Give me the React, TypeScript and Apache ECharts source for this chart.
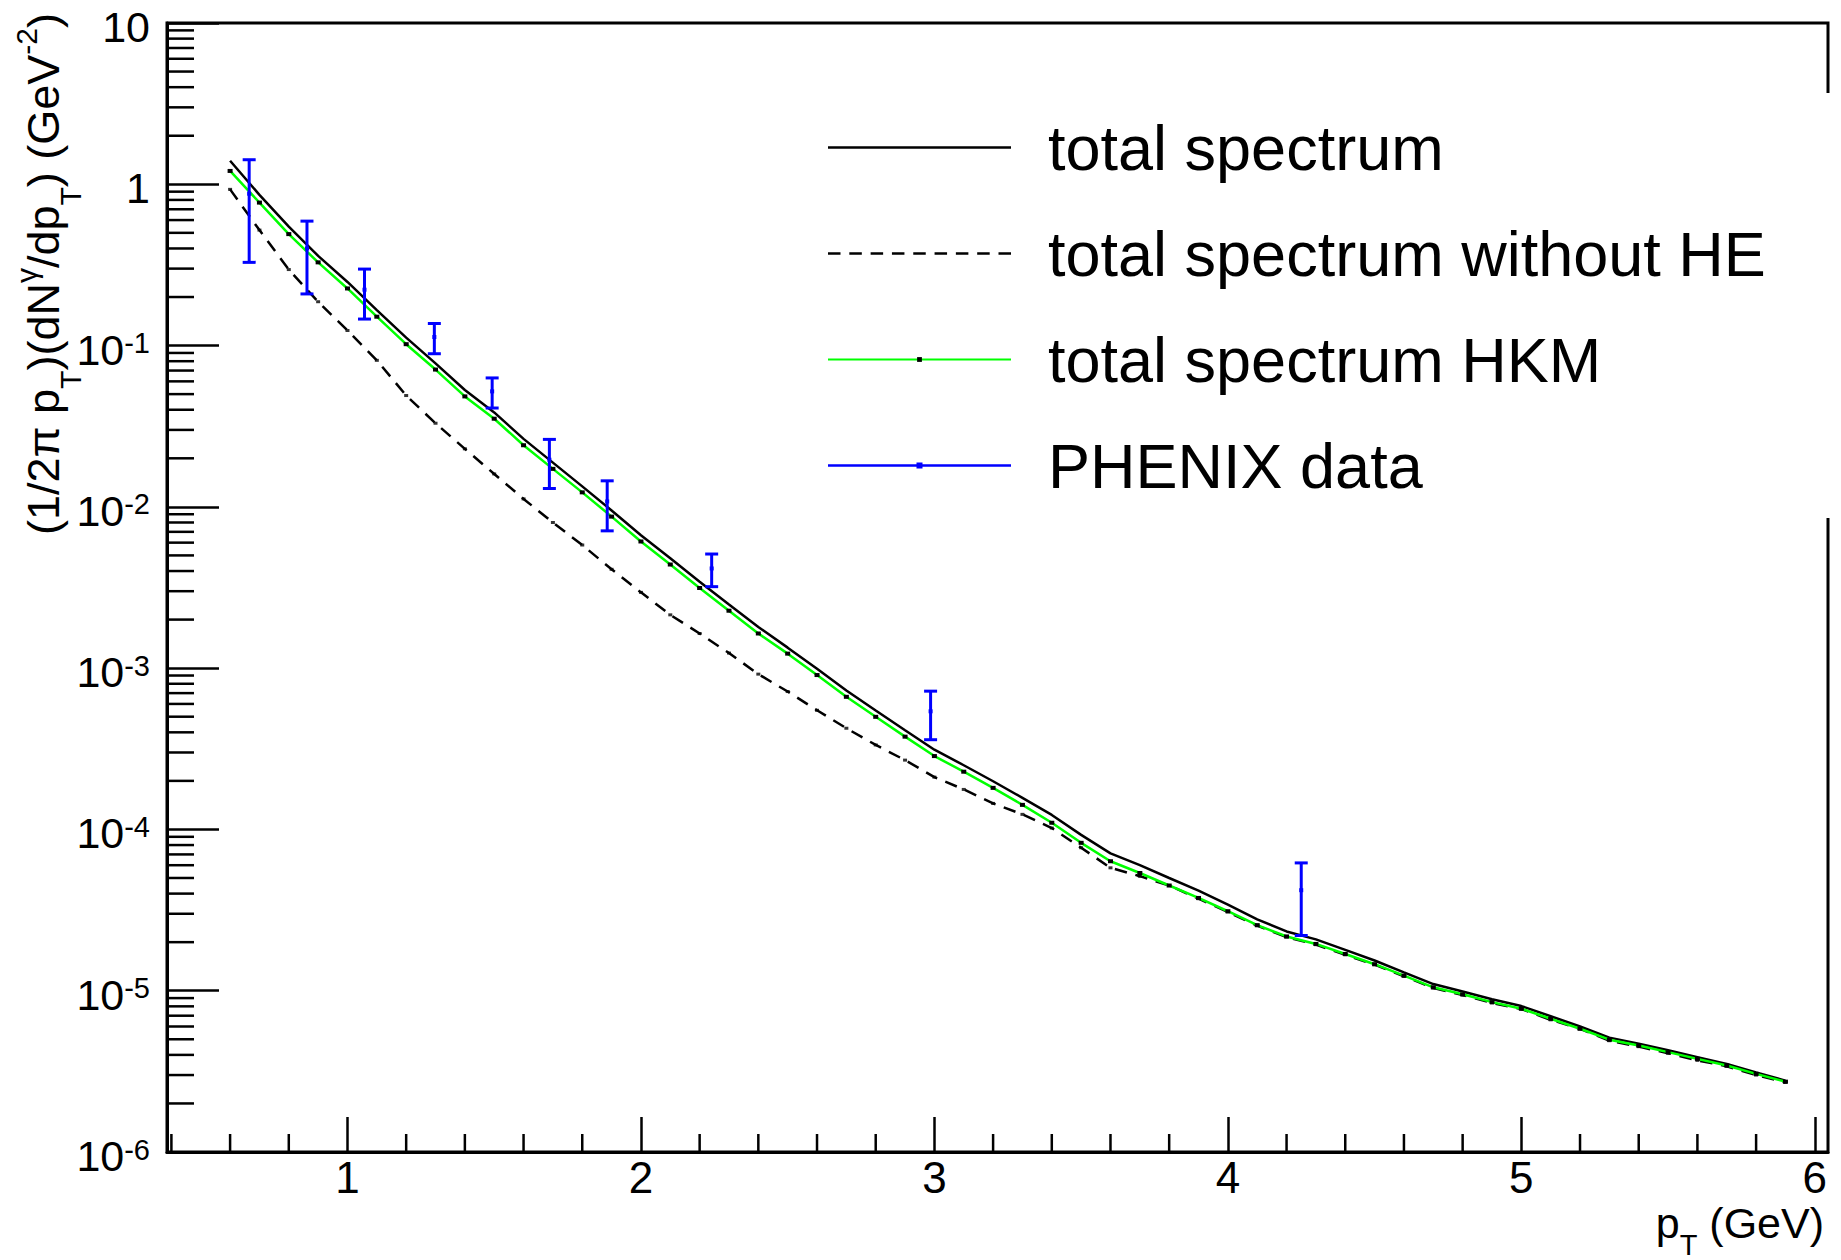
import React, { useEffect, useRef } from 'react';
import * as echarts from 'echarts';

const FONT = '"Liberation Sans", Arial, Helvetica, sans-serif';

// ---------------- data ----------------
const pT = [
  0.6, 0.7, 0.8, 0.9, 1.0, 1.1, 1.2, 1.3, 1.4, 1.5, 1.6, 1.7, 1.8, 1.9,
  2.0, 2.1, 2.2, 2.3, 2.4, 2.5, 2.6, 2.7, 2.8, 2.9, 3.0, 3.1, 3.2, 3.3,
  3.4, 3.5, 3.6, 3.7, 3.8, 3.9, 4.0, 4.1, 4.2, 4.3, 4.4, 4.5, 4.6, 4.7,
  4.8, 4.9, 5.0, 5.1, 5.2, 5.3, 5.4, 5.5, 5.6, 5.7, 5.8, 5.9,
];

const totalSpectrum = [
  1.40, 0.86, 0.546, 0.36, 0.248, 0.166, 0.112, 0.0775, 0.053, 0.0385, 0.0264, 0.0188, 0.0134, 0.0095,
  0.00667, 0.0048, 0.00343, 0.00248, 0.0018, 0.00134, 0.00099, 0.000727, 0.000546, 0.000412, 0.000312, 0.00025, 0.000199, 0.000157,
  0.000123, 0.0000925, 0.000071, 0.00006, 0.00005, 0.0000418, 0.0000342, 0.0000277, 0.0000233, 0.0000208, 0.0000179, 0.0000154, 0.000013, 0.000011,
  0.0000099, 0.00000885, 0.00000803, 0.00000695, 0.000006, 0.00000512, 0.0000047, 0.00000427, 0.00000387, 0.00000351, 0.00000311, 0.00000277,
];

const totalWithoutHE = [
  0.93, 0.52, 0.296, 0.187, 0.124, 0.081, 0.049, 0.033, 0.0229, 0.016, 0.0112, 0.008, 0.0058, 0.0041,
  0.00295, 0.00214, 0.00164, 0.00124, 0.000918, 0.000716, 0.000548, 0.000424, 0.000334, 0.000269, 0.000211, 0.000177, 0.000145, 0.000124,
  0.000102, 0.000077, 0.0000578, 0.0000513, 0.0000449, 0.0000372, 0.0000308, 0.0000253, 0.0000215, 0.0000193, 0.0000167, 0.0000145, 0.0000123, 0.0000104,
  0.0000094, 0.0000084, 0.0000077, 0.0000066, 0.0000058, 0.0000049, 0.0000045, 0.0000041, 0.0000037, 0.0000034, 0.000003, 0.0000027,
];

const totalHKM = [
  1.21, 0.77, 0.491, 0.328, 0.226, 0.151, 0.102, 0.071, 0.0484, 0.0352, 0.0241, 0.0172, 0.0123, 0.0087,
  0.0061, 0.00439, 0.00314, 0.00227, 0.00164, 0.00123, 0.000906, 0.000664, 0.000499, 0.000376, 0.000285, 0.000228, 0.000181, 0.000142,
  0.00011, 0.0000826, 0.0000635, 0.0000537, 0.0000449, 0.0000376, 0.0000311, 0.0000255, 0.0000217, 0.0000195, 0.0000169, 0.0000146, 0.0000124, 0.0000105,
  0.0000095, 0.0000085, 0.00000773, 0.0000067, 0.00000581, 0.00000497, 0.00000457, 0.00000416, 0.00000378, 0.00000344, 0.00000305, 0.00000273,
];

const phenixPT = [0.665, 0.862, 1.058, 1.296, 1.493, 1.688, 1.885, 2.241, 2.987, 4.25];
const phenixValue = [0.874, 0.4, 0.222, 0.113, 0.052, 0.0196, 0.0108, 0.00415, 0.00054, 0.000042];
const phenixError = [0.546, 0.191, 0.076, 0.024, 0.011, 0.0066, 0.0037, 0.00095, 0.00018, 0.00002];

const X_MIN = 0.385;
const X_MAX = 6.045;
const Y_MIN = 1e-6;
const Y_MAX = 10;

// ---------------- helpers ----------------
const pairs = (xs: number[], ys: number[]) => xs.map((x, i) => [x, ys[i]]);

function minorTicksX(): number[] {
  const out: number[] = [];
  for (let i = 2; i <= 30; i++) {
    if (i % 5 !== 0) out.push(i / 5);
  }
  return out;
}

function minorTicksY(): number[] {
  const out: number[] = [];
  for (let e = -6; e <= 0; e++) {
    for (let k = 2; k <= 9; k++) out.push(k * Math.pow(10, e));
  }
  return out;
}

const CORNERS = 'M0,0h0.05v0.05h-0.05z M0,5.95h0.05v0.05h-0.05z';
const ICON_SOLID = 'path://' + CORNERS + ' M0,1.75h183v2.5h-183z';
const ICON_DASHED = (() => {
  let d = 'path://' + CORNERS;
  for (let i = 0; i < 9; i++) {
    const x0 = i * 21.3125;
    d += ` M${x0},1.75h12.5v2.5h-12.5z`;
  }
  return d;
})();
const ICON_PHENIX = 'path://M0,1.75h183v2.5h-183z M88.5,0h6v6h-6z';

export default function App() {
  const ref = useRef<HTMLDivElement>(null);

  useEffect(() => {
    if (!ref.current) return;
    const chart = echarts.init(ref.current, null, { renderer: 'svg' });

    const option: any = {
      animation: false,
      backgroundColor: '#ffffff',
      textStyle: { fontFamily: FONT, color: '#000' },
      grid: {
        left: 167,
        right: 13,
        top: 23,
        bottom: 108,
        outerBoundsMode: 'none',
        containLabel: false,
        show: true,
        borderColor: '#000',
        borderWidth: 3,
        backgroundColor: 'transparent',
      },
      xAxis: {
        type: 'value',
        min: X_MIN,
        max: X_MAX,
        axisLine: { show: true, onZero: false, lineStyle: { color: '#000', width: 3 } },
        axisTick: { show: true, inside: true, length: 35, lineStyle: { color: '#000', width: 2.5 } },
        minorTick: { show: false },
        splitLine: { show: false },
        axisLabel: {
          showMinLabel: false,
          showMaxLabel: false,
          fontSize: 44,
          lineHeight: 36,
          margin: 7,
          color: '#000',
          fontFamily: FONT,
          formatter: (v: number) => String(Math.round(v)),
        },
      },
      yAxis: {
        type: 'log',
        logBase: 10,
        min: Y_MIN,
        max: Y_MAX,
        splitNumber: 7,
        axisLine: { show: true, lineStyle: { color: '#000', width: 3 } },
        axisTick: { show: true, inside: true, length: 52, lineStyle: { color: '#000', width: 2.5 } },
        minorTick: { show: false },
        splitLine: { show: false },
        axisLabel: {
          fontSize: 43,
          lineHeight: 52,
          padding: [8, 0, 0, 0],
          margin: 17,
          color: '#000',
          fontFamily: FONT,
          formatter: (v: number) => {
            const e = Math.round(Math.log10(v));
            if (e === 0) return '1';
            if (e === 1) return '10';
            return '10{sup|' + e + '}';
          },
          rich: {
            sup: { fontSize: 29, lineHeight: 29, verticalAlign: 'top', padding: [5, 0, 0, 0], fontFamily: FONT, color: '#000' },
          },
        },
      },
      legend: {
        show: true,
        orient: 'vertical',
        left: 822,
        top: 111,
        itemWidth: 183,
        itemHeight: 6,
        itemGap: 43,
        selectedMode: false,
        z: 10,
        textStyle: {
          fontSize: 63,
          lineHeight: 62,
          fontFamily: FONT,
          color: '#000',
          padding: [0, 0, 0, 32],
        },
        data: [
          { name: 'total spectrum', icon: ICON_SOLID },
          { name: 'total spectrum without HE', icon: ICON_DASHED },
          { name: 'total spectrum HKM' },
          { name: 'PHENIX data', icon: ICON_PHENIX },
        ],
      },
      graphic: [
        {
          type: 'rect',
          z: 3,
          shape: { x: 790, y: 93, width: 1051, height: 425 },
          style: { fill: '#ffffff' },
          silent: true,
        },
        {
          type: 'text',
          x: 43,
          y: 13,
          rotation: Math.PI / 2,
          z: 5,
          style: {
            text: '(1/2π p{sub|T})(dN{sup|γ}/dp{sub|T}) (GeV{sup|-2})',
            fontSize: 45,
            lineHeight: 96,
            fontFamily: FONT,
            fill: '#000',
            align: 'right',
            verticalAlign: 'middle',
            rich: {
              sup: { fontSize: 30, lineHeight: 30, verticalAlign: 'top', padding: [16, 0, 0, 0], fontFamily: FONT, fill: '#000' },
              sub: { fontSize: 30, lineHeight: 30, verticalAlign: 'top', padding: [60, 0, 0, 0], fontFamily: FONT, fill: '#000' },
            },
          },
        },
        {
          type: 'text',
          x: 1824,
          y: 1201,
          z: 5,
          style: {
            text: '{b|p}{sub|T}{b| (GeV)}',
            fontSize: 43,
            fontFamily: FONT,
            fill: '#000',
            align: 'right',
            verticalAlign: 'top',
            rich: {
              b: { fontSize: 43, lineHeight: 40, verticalAlign: 'top', fontFamily: FONT, fill: '#000' },
              sub: { fontSize: 29, lineHeight: 29, verticalAlign: 'top', padding: [29.5, 0, 0, 0], fontFamily: FONT, fill: '#000' },
            },
          },
        },
      ],
      series: [
        {
          name: 'y minor ticks',
          type: 'custom',
          silent: true,
          z: 1,
          data: minorTicksY().map((v) => [X_MIN, v]),
          encode: { x: 0, y: 1 },
          renderItem: (_p: any, api: any) => {
            const c = api.coord([api.value(0), api.value(1)]);
            return {
              type: 'line',
              shape: { x1: c[0], y1: c[1], x2: c[0] + 27, y2: c[1] },
              style: { stroke: '#000', lineWidth: 2.5 },
            };
          },
        },
        {
          name: 'x minor ticks',
          type: 'custom',
          silent: true,
          z: 1,
          data: minorTicksX().map((v) => [v, Y_MIN]),
          encode: { x: 0, y: 1 },
          renderItem: (_p: any, api: any) => {
            const c = api.coord([api.value(0), api.value(1)]);
            return {
              type: 'line',
              shape: { x1: c[0], y1: c[1], x2: c[0], y2: c[1] - 18 },
              style: { stroke: '#000', lineWidth: 2.5 },
            };
          },
        },
        {
          name: 'total spectrum',
          type: 'line',
          data: pairs(pT, totalSpectrum),
          symbol: 'none',
          itemStyle: { color: '#000' },
          lineStyle: { color: '#000', width: 2.5 },
          z: 3,
        },
        {
          name: 'total spectrum without HE',
          type: 'line',
          data: pairs(pT, totalWithoutHE),
          symbol: 'none',
          itemStyle: { color: '#000' },
          lineStyle: { color: '#000', width: 2.5, type: [12.5, 8.8] },
          z: 3,
        },
        {
          name: 'without HE markers',
          type: 'scatter',
          data: pairs(pT, totalWithoutHE),
          symbol: 'rect',
          symbolSize: [4, 3],
          itemStyle: { color: '#000' },
          silent: true,
          z: 4,
        },
        {
          name: 'total spectrum HKM',
          type: 'line',
          data: pairs(pT, totalHKM),
          symbol: 'rect',
          symbolSize: [5, 4],
          showSymbol: true,
          showAllSymbol: true,
          itemStyle: { color: '#000' },
          lineStyle: { color: '#00ff00', width: 2.5 },
          z: 4,
        },
        {
          name: 'PHENIX data',
          type: 'custom',
          z: 6,
          itemStyle: { color: '#0000ff' },
          data: phenixPT.map((x, i) => [x, phenixValue[i], phenixError[i]]),
          encode: { x: 0, y: 1 },
          renderItem: (_p: any, api: any) => {
            const x = api.value(0);
            const y = api.value(1);
            const e = api.value(2);
            const c = api.coord([x, y]);
            const t = api.coord([x, y + e]);
            const b = api.coord([x, y - e]);
            const hw = 6.5;
            const st = { stroke: '#0000ff', lineWidth: 3 };
            return {
              type: 'group',
              children: [
                { type: 'line', shape: { x1: c[0], y1: t[1], x2: c[0], y2: b[1] }, style: st },
                { type: 'line', shape: { x1: c[0] - hw, y1: t[1], x2: c[0] + hw, y2: t[1] }, style: st },
                { type: 'line', shape: { x1: c[0] - hw, y1: b[1], x2: c[0] + hw, y2: b[1] }, style: st },
                { type: 'rect', shape: { x: c[0] - 2, y: c[1] - 2, width: 4, height: 4 }, style: { fill: '#0000ff' } },
              ],
            };
          },
        },
      ],
    };

    chart.setOption(option);
    return () => chart.dispose();
  }, []);

  return (
    <div
      ref={ref}
      style={{ position: 'absolute', left: 0, top: 0, width: 1841, height: 1260 }}
    />
  );
}
